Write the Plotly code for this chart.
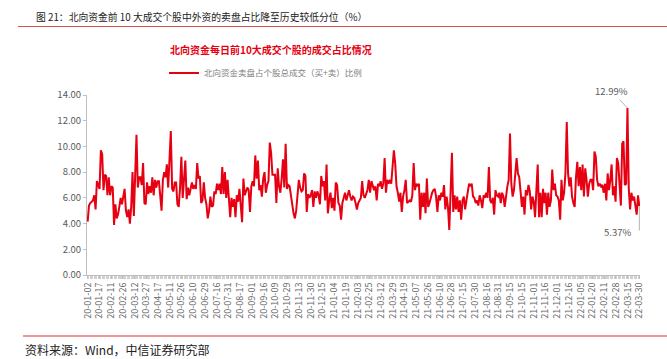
import numpy as np
import plotly.graph_objects as go

# ---- data (percent) ----
ratio_part1 = [
    4.15, 5.4, 5.6, 5.7, 5.8, 6.2, 5.1, 7.3, 7.0, 6.7, 9.7, 9.4, 6.6, 7.8, 7.7, 6.2, 7.6, 6.2, 6.9, 6.8,
    3.9, 5.5, 4.4, 4.7, 5.3, 6.0, 5.5, 6.1, 6.7, 5.0, 4.5, 5.1, 4.0, 5.3, 8.0, 4.6, 8.1, 10.9, 6.8, 7.6,
    7.6, 7.0, 8.7, 5.6, 5.5, 7.2, 6.3, 6.9, 6.4, 7.6, 6.2, 7.4, 6.8, 7.3, 7.3, 6.0, 5.0, 7.4, 8.0, 7.6,
    8.6, 6.8, 8.6, 11.2, 6.7, 6.5, 7.2, 7.2, 5.5, 5.3, 6.8, 9.2, 6.0, 7.2, 8.9, 5.9, 6.8, 6.2, 6.8, 7.2,
    6.7, 7.0, 6.7, 8.7, 7.5, 7.7, 5.6, 5.8, 7.2, 6.0, 5.5, 4.4, 5.0, 6.1, 5.3, 5.4, 6.5, 6.3, 7.1, 6.6,
    7.1, 6.3, 8.4, 6.3, 8.0, 6.0, 7.4, 6.2, 4.5, 6.0, 5.3, 5.9, 4.5, 6.2, 5.7, 6.7, 5.6, 4.1, 7.5, 6.2,
    6.5, 6.8, 6.6, 4.9, 6.9, 7.3, 6.9, 9.3, 7.5, 8.9, 6.6, 7.0, 6.1, 7.5, 8.0, 6.4, 7.0, 7.3, 10.3, 9.5,
    7.8, 7.8, 7.8, 5.6, 8.3, 6.9, 6.4, 7.5, 9.0, 6.8, 10.2, 6.7, 7.0, 6.9, 6.0, 5.5, 4.8, 4.4, 5.0, 6.4,
    7.4, 6.8, 6.5, 6.6, 7.9, 7.7, 4.9, 6.3, 6.0, 6.2, 6.6, 5.3, 6.5, 6.0, 6.5, 6.2, 5.5, 7.7, 6.9, 7.3,
    5.8, 8.6, 4.8, 5.8, 6.4, 5.2, 6.0, 5.0, 7.2, 7.0, 5.6, 5.4, 4.3,
]
ratio_part2 = [
    5.6, 6.1, 6.4, 5.8, 6.2, 6.6, 6.1, 5.8, 6.1, 6.0,
    5.6, 5.1, 5.6, 5.8, 6.0, 7.3, 6.2, 6.0, 6.4, 6.6,
    7.4, 6.4, 7.3, 6.9, 6.6, 6.9, 5.8, 7.1, 6.9, 7.3,
    6.7, 7.1, 9.1, 6.4, 7.4, 7.1, 7.4, 7.1, 8.9, 9.7,
    8.7, 6.9, 6.4, 5.7, 6.4, 4.9, 6.1, 6.6, 7.4, 5.6,
    5.7, 5.8, 5.7, 6.2, 8.7, 6.6, 7.1, 6.9, 7.1, 4.3,
    6.4, 5.3, 6.4, 4.8, 7.5, 5.3, 5.6, 6.1, 6.4, 6.6,
    6.7, 6.1, 4.9, 6.2, 5.8, 6.4, 6.1, 7.0, 5.1, 6.1,
    5.3, 3.5, 6.1, 9.5, 4.9, 6.2, 5.1, 6.1, 4.9, 5.8,
    4.3, 5.8, 6.1, 5.1, 5.8, 6.4, 7.1, 6.9, 7.1, 6.1,
    6.0, 5.6, 5.8, 5.4, 6.2, 5.8, 5.2, 6.2, 6.0, 6.4,
    6.0, 8.4, 5.8, 5.6, 6.0, 4.7, 6.6, 6.2, 6.1, 6.4,
    5.6, 6.4, 6.1, 5.3, 6.4, 6.9, 7.4, 11.0, 7.1, 6.1,
    6.6, 7.6, 9.1, 7.9, 7.6, 6.5, 5.3, 6.1, 4.7, 6.6,
    6.2, 7.0, 6.5, 5.1, 6.1, 5.7, 4.5, 6.6, 8.6, 4.5,
    6.4, 4.5, 6.7, 5.6, 6.4, 4.7, 6.4, 5.3, 5.8, 8.2,
    6.6, 7.1, 6.2, 6.1, 5.8, 4.3, 7.4, 5.8, 6.4, 7.9,
    11.9, 7.9, 6.9, 7.6, 6.1, 5.6, 5.3, 7.6, 8.8, 6.9,
    8.4, 6.6, 8.6, 6.1, 8.3, 7.4, 6.1, 7.1, 7.4, 7.4,
    6.6, 9.6, 9.2, 7.4, 6.9, 7.1, 6.9, 7.0, 6.4, 7.1,
    5.8, 7.9, 6.6, 7.4, 8.6, 6.2, 6.9, 5.7, 9.1, 8.7,
    7.1, 5.4, 10.2, 10.4, 7.0, 7.1, 12.99, 6.7, 5.1, 6.4,
    5.8, 6.1, 5.4, 4.7, 6.2, 5.37,
]
ratio = ratio_part1 + ratio_part2

date_labels = [
    "20-01-02", "20-01-17", "20-02-11", "20-02-26", "20-03-12", "20-03-27", "20-04-17", "20-05-11",
    "20-05-26", "20-06-10", "20-06-29", "20-07-16", "20-07-31", "20-08-17", "20-09-01", "20-09-16",
    "20-10-09", "20-10-29", "20-11-13", "20-11-30", "20-12-15", "21-01-04", "21-01-19", "21-02-03",
    "21-02-25", "21-03-12", "21-03-29", "21-04-19", "21-05-07", "21-05-26", "21-06-10", "21-06-28",
    "21-07-15", "21-07-30", "21-08-16", "21-08-31", "21-09-15", "21-10-15", "21-11-01", "21-11-16",
    "21-12-01", "21-12-16", "22-01-05", "22-01-20", "22-02-11", "22-02-28", "22-03-15", "22-03-30",
]
y_ticks = [0, 2, 4, 6, 8, 10, 12, 14]

series_name = "北向资金卖盘占个股总成交（买+卖）比例"
chart_title = "图 21：北向资金前 10 大成交个股中外资的卖盘占比降至历史较低分位（%）"
inner_title = "北向资金每日前10大成交个股的成交占比情况"
source_text = "资料来源：Wind，中信证券研究部"

# ---- figure ----
n = len(ratio)
x = list(range(n))
tick_pos = list(np.linspace(0, n - 1, len(date_labels)))

FONT = "Noto Sans CJK SC, Noto Sans, sans-serif"
RED = "#e60012"
GREY = "#bfbfbf"

fig = go.Figure()
fig.add_trace(go.Scatter(
    x=x, y=ratio, mode="lines", name=series_name,
    line=dict(color=RED, width=2),
))

W, H = 667, 359
L, R, T, B = 87, 27, 95, 84
pw, ph = W - L - R, H - T - B


def px_x(p):
    return (p - L) / pw


def px_y(p):
    return (H - B - p) / ph


fig.update_layout(
    width=W, height=H,
    margin=dict(l=L, r=R, t=T, b=B),
    paper_bgcolor="white", plot_bgcolor="white",
    font=dict(family=FONT, color="#595959"),
    showlegend=True,
    legend=dict(
        orientation="h", x=px_x(164), xanchor="left", y=px_y(73), yanchor="middle",
        font=dict(size=8.5, color="#808080"), bgcolor="rgba(0,0,0,0)",
        itemwidth=30,
    ),
    xaxis=dict(
        range=[-0.5, n - 0.5], tickmode="array", tickvals=tick_pos, ticktext=date_labels,
        tickangle=-90, tickfont=dict(size=9, color="#666666"),
        showgrid=False, zeroline=False, showline=True, linecolor=GREY, linewidth=1,
        ticks="outside", ticklen=3, tickcolor=GREY, automargin=False,
        minor=dict(ticks="outside", dtick=1, tick0=0, ticklen=3, tickcolor="#d0d0d0", tickwidth=1),
    ),
    yaxis=dict(
        range=[0, 14], tickvals=y_ticks, tickformat=".2f", ticksuffix="%",
        tickfont=dict(size=9.5, color="#595959"), automargin=False,
        showgrid=False, zeroline=False, showline=True, linecolor=GREY, linewidth=1,
        ticks="outside", ticklen=3, tickcolor=GREY,
    ),
)

peak_i = int(np.argmax(ratio))
fig.add_annotation(
    x=peak_i, y=ratio[peak_i], text=f"{ratio[peak_i]:.2f}%", showarrow=True,
    arrowhead=0, arrowwidth=0.8, arrowcolor="#a0a0a0", ax=-16, ay=-17,
    font=dict(size=9.5, color="#595959"),
)
# end-value callout (elbow leader)
fig.add_annotation(
    x=n - 1, y=ratio[-1], text="", showarrow=True, arrowhead=0, arrowwidth=0.8,
    arrowcolor="#a0a0a0", ax=0, ay=26,
)
fig.add_annotation(
    x=n - 1, y=ratio[-1], text=f"{ratio[-1]:.2f}%", showarrow=False,
    xanchor="right", yanchor="middle", xshift=-6, yshift=-26,
    font=dict(size=9.5, color="#595959"),
)

# titles and decorations
fig.add_annotation(
    xref="paper", yref="paper", x=px_x(201), y=px_y(17), xanchor="center", yanchor="middle",
    text=chart_title, showarrow=False, font=dict(size=9.8, color="#222222", family=FONT),
)
fig.add_shape(
    type="line", xref="paper", yref="paper", x0=px_x(18), x1=px_x(667), y0=px_y(26.5), y1=px_y(26.5),
    line=dict(color="#d9534f", width=1),
)
fig.add_annotation(
    xref="paper", yref="paper", x=px_x(271), y=px_y(49), xanchor="center", yanchor="middle",
    text=f"<b>{inner_title}</b>", showarrow=False, font=dict(size=10, color=RED, family=FONT),
)
fig.add_shape(
    type="line", xref="paper", yref="paper", x0=px_x(23), x1=px_x(667), y0=px_y(336), y1=px_y(336),
    line=dict(color="#e0302a", width=1.2),
)
fig.add_annotation(
    xref="paper", yref="paper", x=px_x(23), y=px_y(349), xanchor="left", yanchor="middle",
    text=source_text, showarrow=False, font=dict(size=12, color="#222222", family=FONT),
)

fig.write_html(
    "out.html",
    config={"displayModeBar": False},
    post_script="document.body.style.margin='0';document.body.style.overflow='hidden';",
)
